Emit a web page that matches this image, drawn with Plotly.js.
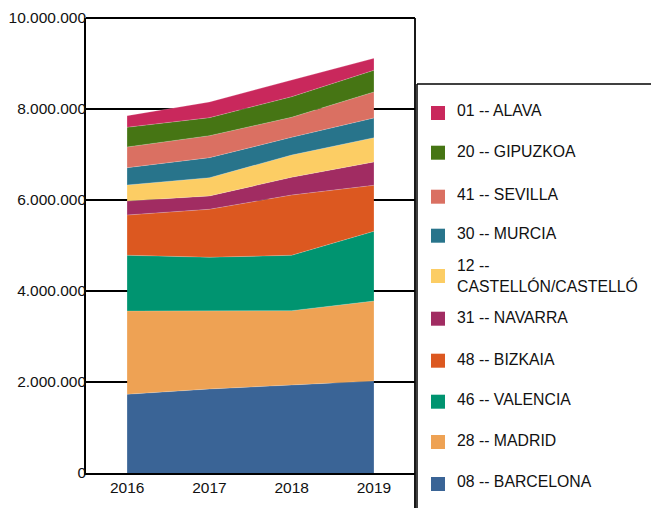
<!DOCTYPE html>
<html>
<head>
<meta charset="utf-8">
<script src="https://cdn.plot.ly/plotly-3.0.1.min.js"></script>
<style>html,body{margin:0;padding:0;background:#fff;}#chart{width:651px;height:508px;}</style>
</head>
<body>
<div id="chart"></div>
<script>
// ---- data ----
const years = ['2016', '2017', '2018', '2019'];
// series listed bottom of stack first
const seriesNames = [
  '08 -- BARCELONA', '28 -- MADRID', '46 -- VALENCIA', '48 -- BIZKAIA', '31 -- NAVARRA',
  '12 -- CASTELLÓN/CASTELLÓ', '30 -- MURCIA', '41 -- SEVILLA', '20 -- GIPUZKOA', '01 -- ALAVA'
];
const legendLabels = [
  '08 -- BARCELONA', '28 -- MADRID', '46 -- VALENCIA', '48 -- BIZKAIA', '31 -- NAVARRA',
  '12 --<br>CASTELLÓN/CASTELLÓ', '30 -- MURCIA', '41 -- SEVILLA', '20 -- GIPUZKOA', '01 -- ALAVA'
];
const barcelona = [1730000, 1846000, 1934000, 2022000];
const madrid    = [1830000, 1714000, 1633000, 1758000];
const valencia  = [1225000, 1181000, 1218000, 1532000];
const bizkaia   = [885000, 1055000, 1325000, 1011000];
const navarra   = [308000, 292000, 389000, 512000];
const castellon = [352000, 402000, 490000, 534000];
const murcia    = [380000, 440000, 389000, 433000];
const sevilla   = [455000, 483000, 440000, 572000];
const gipuzkoa  = [433000, 396000, 452000, 477000];
const alava     = [255000, 345000, 367000, 263000];
const seriesValues = [barcelona, madrid, valencia, bizkaia, navarra, castellon, murcia, sevilla, gipuzkoa, alava];
const yTickVals = [0, 2000000, 4000000, 6000000, 8000000, 10000000];

// ---- style ----
const colors = ['#3a6496', '#eea254', '#009470', '#dc5820', '#a12c62',
                '#fccd64', '#28748b', '#da7062', '#467514', '#c9285c'];
const W = 651, H = 508;
const L = 86, R = 415, T = 18, B = 473;
const px = x => (x - L) / (R - L);
const py = y => (B - y) / (B - T);
const FONT = 'Liberation Sans, Arial, sans-serif';
const TXT = '#111';

const traces = seriesValues.map((vals, i) => ({
  type: 'scatter',
  x: years,
  y: vals,
  name: seriesNames[i],
  stackgroup: 'one',
  mode: 'lines',
  line: {width: 0.6, color: 'rgba(255,255,255,0.35)'},
  fillcolor: colors[i],
  showlegend: false,
  hoverinfo: 'x+y+name'
}));

// legend (drawn manually): item centers top -> bottom
const legendSwatchY = [484, 442, 401.7, 360.7, 318.7, 276, 235.7, 196.7, 152.7, 113];
const legendTextY   = [482, 440.7, 399.3, 359.3, 317.7, 275.5, 233.3, 194.3, 152, 110.7];

const shapes = [];
const annotations = [];
// frame lines
shapes.push({type: 'line', xref: 'paper', yref: 'paper', x0: px(L), x1: px(R), y0: py(T), y1: py(T), line: {color: '#000', width: 1.8}});
shapes.push({type: 'line', xref: 'paper', yref: 'paper', x0: px(R), x1: px(R), y0: py(T), y1: py(H + 5), line: {color: '#000', width: 1.8}});
// legend box
shapes.push({type: 'line', xref: 'paper', yref: 'paper', x0: px(417), x1: px(417), y0: py(84), y1: py(H + 5), line: {color: '#000', width: 1.5}});
shapes.push({type: 'line', xref: 'paper', yref: 'paper', x0: px(417), x1: px(W + 5), y0: py(84), y1: py(84), line: {color: '#000', width: 1.5}});

seriesNames.forEach((n, i) => {
  const cy = legendSwatchY[i];
  shapes.push({type: 'rect', xref: 'paper', yref: 'paper',
    x0: px(431), x1: px(445), y0: py(cy - 7), y1: py(cy + 7),
    fillcolor: colors[i], line: {width: 0}});
  annotations.push({xref: 'paper', yref: 'paper', x: px(455), y: py(legendTextY[i]),
    xanchor: 'left', yanchor: 'middle', align: 'left', showarrow: false,
    text: legendLabels[i], font: {family: FONT, size: 15.8, color: TXT}});
});

const layout = {
  width: W, height: H,
  margin: {l: L, r: W - R, t: T, b: H - B, pad: 0},
  paper_bgcolor: '#fff', plot_bgcolor: '#fff',
  separators: ',.',
  showlegend: false,
  font: {family: FONT, size: 15.5, color: TXT},
  xaxis: {
    type: 'category', range: [-0.5, 3.5], fixedrange: true,
    showgrid: false, zeroline: false,
    showline: true, linecolor: '#000', linewidth: 1.8,
    ticks: '', tickfont: {family: FONT, size: 15.5, color: TXT}
  },
  yaxis: {
    range: [0, 10000000], fixedrange: true,
    tickvals: yTickVals, tickformat: ',d',
    showgrid: true, gridcolor: '#000', gridwidth: 1.6,
    zeroline: false,
    showline: true, linecolor: '#000', linewidth: 1.8,
    ticks: '', ticklabelstandoff: -5,
    tickfont: {family: FONT, size: 15.5, color: TXT}
  },
  shapes: shapes,
  annotations: annotations
};

Plotly.newPlot('chart', traces, layout, {displayModeBar: false, staticPlot: true});
</script>
</body>
</html>
